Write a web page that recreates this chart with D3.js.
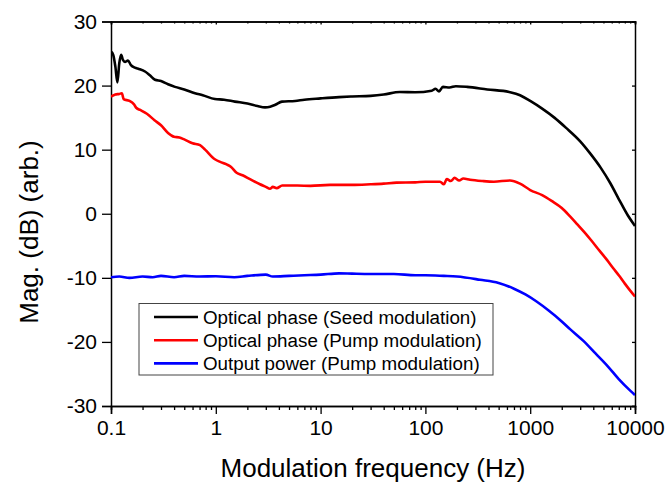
<!DOCTYPE html>
<html><head><meta charset="utf-8">
<script src="https://cdn.jsdelivr.net/npm/d3@7"></script>
<style>
body{margin:0;background:#fff;}
svg{display:block;font-family:"Liberation Sans",Arial,sans-serif;}
</style></head>
<body><svg id="c" width="667" height="484"></svg>
<script>
// ---- data ----
const seriesNames = ["Optical phase (Seed modulation)", "Optical phase (Pump modulation)", "Output power (Pump modulation)"];
const seriesColors = ["#000000", "#ff0000", "#0000ff"];
const xTickLabels = [0.1, 1, 10, 100, 1000, 10000];
const yTickLabels = [-30, -20, -10, 0, 10, 20, 30];

const seedFreq = [0.1,0.105,0.11,0.115,0.12,0.125,0.13,0.136,0.145,0.155,0.169,0.185,0.211,0.235,0.263,0.3,0.35,0.408,0.5,0.633,0.75,0.98,1.2,1.52,2.0,2.5,2.95,3.3,3.7,4.28,5.7,7,10,15,20,30,40,57,80,115,125,135,147,170,195,250,390,630,800,1000,1300,1700,2200,3000,3700,4700,5800,7000,8500,10000];
const seedMag  = [25.3,24.8,23.0,20.5,23.5,24.8,24.0,23.7,23.9,23.2,22.8,22.6,22.2,21.6,20.9,20.7,20.2,19.8,19.4,18.8,18.5,17.9,17.8,17.5,17.2,16.8,16.6,16.7,17.0,17.5,17.6,17.8,18.0,18.2,18.3,18.4,18.6,19.0,18.95,19.2,19.5,19.1,19.8,19.7,19.9,19.8,19.4,19.0,18.5,17.6,16.4,15.0,13.4,11.3,9.5,7.2,4.8,2.3,-0.2,-1.9];

const pumpFreq = [0.1,0.11,0.12,0.127,0.132,0.15,0.165,0.175,0.19,0.22,0.26,0.3,0.35,0.4,0.45,0.5,0.6,0.707,0.79,0.98,1.1,1.27,1.4,1.58,1.8,2.12,2.64,3.0,3.29,3.5,3.81,4.3,4.75,6,8,12.3,20,30,40,53,80,100,138,150,160,175,190,210,230,267,350,450,641,800,1000,1300,1600,2000,2400,2800,3300,3800,4600,5400,6200,7000,8000,9000,10000];
const pumpMag  = [18.3,18.6,18.7,18.8,17.9,17.6,17.1,16.5,16.2,15.6,14.6,13.8,12.6,12.0,11.9,11.6,11.0,10.7,10.0,8.5,8.1,7.7,7.3,6.4,6.0,5.4,4.6,4.2,3.9,4.2,4.0,4.4,4.4,4.4,4.35,4.5,4.5,4.6,4.7,4.85,4.9,5.0,5.0,4.6,5.4,5.1,5.6,5.2,5.5,5.3,5.1,5.0,5.2,4.7,3.7,2.9,2.0,0.9,-0.4,-1.6,-2.9,-4.1,-5.8,-7.2,-8.5,-9.6,-10.9,-12.0,-12.9];

const powerFreq = [0.1,0.12,0.15,0.2,0.25,0.3,0.4,0.5,0.7,1,1.5,2,3,3.5,5,7,10,15,20,30,50,80,100,150,200,332,500,700,900,1150,1500,2000,2400,3200,4200,5500,7000,9000,10000];
const powerMag  = [-9.9,-9.8,-10.0,-9.8,-9.9,-9.7,-9.9,-9.7,-9.8,-9.75,-9.9,-9.7,-9.5,-9.8,-9.7,-9.6,-9.5,-9.3,-9.35,-9.4,-9.4,-9.6,-9.6,-9.7,-9.8,-10.3,-10.8,-11.7,-12.6,-13.7,-15.1,-16.8,-18.0,-19.8,-21.8,-23.8,-25.8,-27.6,-28.3];

// ---- chart ----
const svg = d3.select("#c");
const x = d3.scaleLog().domain([0.1, 10000]).range([111, 635]);
const y = d3.scaleLinear().domain([-30, 30]).range([406, 21.5]);

const minorTicks = [];
for (let d = 0.1; d < 10000; d *= 10) for (let k = 2; k <= 9; k++) minorTicks.push(+(d * k).toPrecision(3));

const fmt = d => String(d);

function styleAxis(g){
  g.select(".domain").attr("stroke","#000").attr("stroke-width",1.5);
  g.selectAll(".tick line").attr("stroke","#000").attr("stroke-width",1.3);
  g.selectAll("text").attr("fill","#000").style("font-size","21px").style("font-family",'"Liberation Sans",Arial,sans-serif');
}

svg.append("g").attr("transform","translate(0,406)")
  .call(d3.axisBottom(x).tickValues(minorTicks).tickSize(4).tickFormat(""))
  .call(styleAxis);
svg.append("g").attr("transform","translate(0,406)")
  .call(d3.axisBottom(x).tickValues(xTickLabels).tickSize(8).tickPadding(6).tickFormat(fmt))
  .call(styleAxis);
svg.append("g").attr("transform","translate(0,21.5)")
  .call(d3.axisTop(x).tickValues(minorTicks).tickSize(-2).tickFormat(""))
  .call(styleAxis);
svg.append("g").attr("transform","translate(0,21.5)")
  .call(d3.axisTop(x).tickValues(xTickLabels).tickSize(-3).tickFormat(""))
  .call(styleAxis);
svg.append("g").attr("transform","translate(111,0)")
  .call(d3.axisLeft(y).tickValues(yTickLabels).tickSize(9).tickPadding(5).tickFormat(fmt))
  .call(styleAxis);
svg.append("g").attr("transform","translate(635,0)")
  .call(d3.axisRight(y).tickValues(yTickLabels).tickSize(-3).tickFormat(""))
  .call(styleAxis);

svg.append("clipPath").attr("id","pc").append("rect").attr("x",111).attr("y",21.5).attr("width",524).attr("height",384.5);
const line = d3.line().x(d => x(d[0])).y(d => y(d[1])).curve(d3.curveMonotoneX);
const allSeries = [
  d3.zip(seedFreq, seedMag),
  d3.zip(pumpFreq, pumpMag),
  d3.zip(powerFreq, powerMag)
];
[2,1,0].forEach(i => {
  svg.append("path").datum(allSeries[i]).attr("d", line)
    .attr("fill","none").attr("stroke",seriesColors[i]).attr("stroke-width",2.6)
    .attr("stroke-linejoin","round").attr("clip-path","url(#pc)");
});

const lg = svg.append("g");
lg.append("rect").attr("x",139).attr("y",303.5).attr("width",354).attr("height",71.5)
  .attr("fill","#fff").attr("stroke","#444").attr("stroke-width",1);
seriesNames.forEach((n,i) => {
  const yy = 317 + i*23.2;
  lg.append("line").attr("x1",154).attr("x2",198).attr("y1",yy).attr("y2",yy)
    .attr("stroke",seriesColors[i]).attr("stroke-width",2.6);
  lg.append("text").attr("x",203).attr("y",yy).attr("dy","0.35em")
    .style("font-size","18.8px").attr("fill","#000").text(n);
});

svg.append("text").attr("x",373).attr("y",477).attr("text-anchor","middle")
  .style("font-size","26px").attr("fill","#000").text("Modulation frequency (Hz)");
svg.append("text").attr("transform","translate(38,232) rotate(-90)").attr("text-anchor","middle")
  .style("font-size","26px").attr("fill","#000").text("Mag. (dB) (arb.)");
</script>
</body></html>
